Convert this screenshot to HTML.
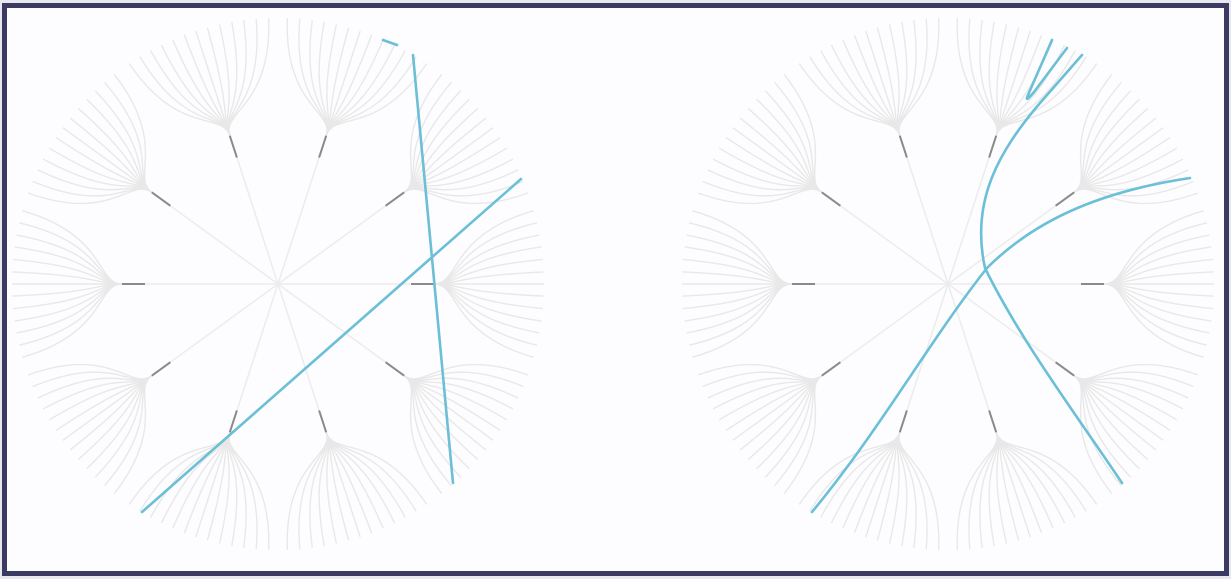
<!DOCTYPE html>
<html><head><meta charset="utf-8"><style>
html,body{margin:0;padding:0;background:#e8e8ee;}
#frame{position:absolute;left:2px;top:3px;width:1217px;height:563px;border:5px solid #3b3a62;background:#fdfdff;}
svg{position:absolute;left:0;top:0;}
</style></head><body>
<div id="frame"></div>
<svg id="s" width="1231" height="579"></svg>
<script>
const branchAngles=[0,36,72,108,144,180,216,252,288,324];
const leafOffsets=[-16,-13.3,-10.6,-8,-5.3,-2.6,0,2.6,5.3,8,10.6,13.3,16];
const centers=[[278,284],[948,284]];
const leftLines=[[[142,512],[521,179]],[[413,55],[453,483]],[[383,40],[397,45]]];
const rightCurves=[
 "M812,512 C880,430 930,340 987,268 C1040,215 1110,190 1190,178",
 "M1122,483 C1080,420 1020,340 985,268 C970,200 1000,150 1040,103 L1082,55",
 "M1052,40 L1028,95 Q1024,104 1034,92 L1067,48"
];
const s=document.getElementById('s');
const NS='http://www.w3.org/2000/svg';
function pt(c,r,a){const t=a*Math.PI/180;return [c[0]+r*Math.cos(t),c[1]-r*Math.sin(t)];}
function mk(tag,attrs){const e=document.createElementNS(NS,tag);for(const k in attrs)e.setAttribute(k,attrs[k]);s.appendChild(e);return e;}
centers.forEach((c,ci)=>{
 branchAngles.forEach(a=>{
  const p0=pt(c,0,a),p1=pt(c,133,a),p2=pt(c,156,a);
  let e=mk('line',{x1:p0[0],y1:p0[1],x2:p1[0],y2:p1[1],stroke:'#ececec','stroke-width':1.5});
  
  
  leafOffsets.forEach(o=>{
   const f=a+o;
   const c1=pt(c,182,a),c2=pt(c,178,f),e2=pt(c,266,f);
   const l=mk('path',{d:`M${p2[0]},${p2[1]} C${c1[0]},${c1[1]} ${c2[0]},${c2[1]} ${e2[0]},${e2[1]}`,fill:'none',stroke:'#e8e8e8','stroke-width':1.4});
   
   
  });
  e=mk('line',{x1:p1[0],y1:p1[1],x2:p2[0],y2:p2[1],stroke:'#8a8a8a','stroke-width':2});
  
  
 });
});
leftLines.forEach(l=>{
 const e=mk('line',{x1:l[0][0],y1:l[0][1],x2:l[1][0],y2:l[1][1],stroke:'#6bbfd6','stroke-width':2.6,'stroke-linecap':'round'});
 
 
});
rightCurves.forEach(d=>{
 const e=mk('path',{d:d,fill:'none',stroke:'#6bbfd6','stroke-width':2.6,'stroke-linecap':'round'});
 
 
});
</script>
</body></html>
